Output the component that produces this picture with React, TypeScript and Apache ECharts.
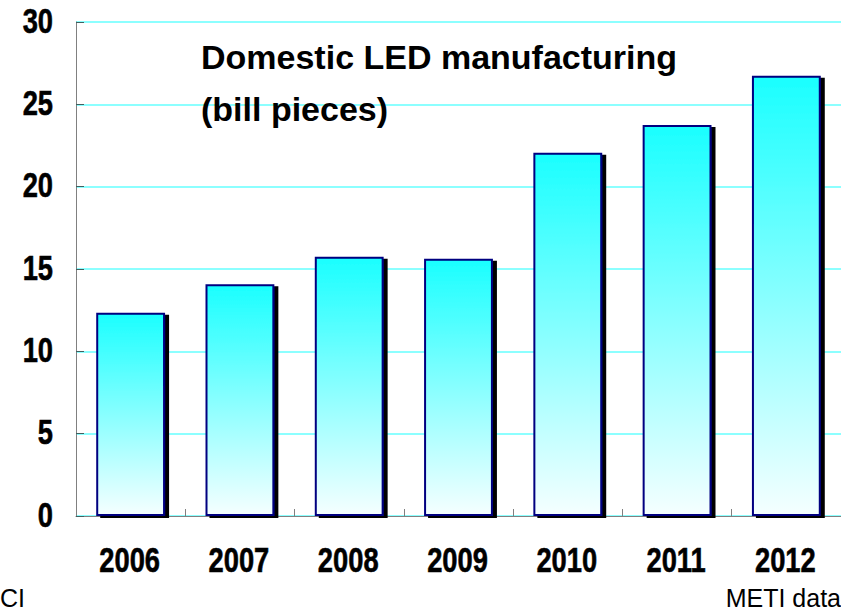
import React, { useEffect, useRef } from "react";
import * as echarts from "echarts";

const years = ["2006", "2007", "2008", "2009", "2010", "2011", "2012"];
const production = [12.35, 14.08, 15.75, 15.63, 22.06, 23.74, 26.74];
const yTicks = [0, 5, 10, 15, 20, 25, 30];
const titleLines = ["Domestic LED manufacturing", "(bill pieces)"];
const sourceLeft = "CI";
const sourceRight = "METI data";

const LABEL_FONT = "'Liberation Sans', Arial, sans-serif";

export default function App() {
  const ref = useRef<HTMLDivElement>(null);
  useEffect(() => {
    if (!ref.current) return;
    const chart = echarts.init(ref.current, null, { renderer: "svg" });
    chart.setOption({
      animation: false,
      backgroundColor: "#ffffff",
      grid: { left: 76, top: 22, bottom: 94, right: -5, containLabel: false },
      xAxis: {
        type: "category",
        data: years,
        axisLine: { show: true, lineStyle: { color: "#808080", width: 1 } },
        axisTick: { show: true, inside: true, length: 7, lineStyle: { color: "#808080" } },
        axisLabel: { show: false },
      },
      yAxis: {
        type: "value",
        min: 0,
        max: 30,
        interval: 5,
        axisLine: { show: true, lineStyle: { color: "#808080", width: 1 } },
        axisTick: { show: true, inside: true, length: 8, lineStyle: { color: "#406060" } },
        splitLine: { show: true, lineStyle: { color: "#66ffff", width: 1.5 } },
        axisLabel: { show: false },
      },
      series: [
        {
          type: "bar",
          data: production,
          barWidth: "63%",
          itemStyle: {
            color: new echarts.graphic.LinearGradient(0, 0, 0, 1, [
              { offset: 0, color: "#1affff" },
              { offset: 1, color: "#f5ffff" },
            ]),
            borderColor: "#000080",
            borderWidth: 2,
            shadowColor: "#000000",
            shadowOffsetX: 4,
            shadowOffsetY: 2,
            shadowBlur: 0,
          },
        },
      ],
    });

    const tickStyle = {
      fontSize: 35,
      fontWeight: "bold",
      fill: "#000",
      stroke: "#000",
      lineWidth: 0.6,
      fontFamily: LABEL_FONT,
    };

    // Tick labels in a condensed bold face, placed through the axes' own scales
    const yLabels = yTicks.map((v) => {
      const py = chart.convertToPixel({ yAxisIndex: 0 }, v) as number;
      return {
        type: "text",
        x: 53,
        y: py - 1,
        scaleX: 0.78,
        style: { x: 0, y: 0, text: String(v), align: "right", verticalAlign: "middle", ...tickStyle },
      };
    });
    const baseY = chart.convertToPixel({ yAxisIndex: 0 }, 0) as number;
    const xLabels = years.map((c) => {
      const px = chart.convertToPixel({ xAxisIndex: 0 }, c) as number;
      return {
        type: "text",
        x: px - 1,
        y: baseY + 44,
        scaleX: 0.78,
        style: { x: 0, y: 0, text: c, align: "center", verticalAlign: "middle", ...tickStyle },
      };
    });

    chart.setOption({
      graphic: [
        ...yLabels,
        ...xLabels,
        {
          type: "text",
          left: 201,
          top: 40,
          style: { text: titleLines[0], fontSize: 34, fontWeight: "bold", fill: "#000", fontFamily: LABEL_FONT },
        },
        {
          type: "text",
          left: 201,
          top: 92,
          style: { text: titleLines[1], fontSize: 34, fontWeight: "bold", fill: "#000", fontFamily: LABEL_FONT },
        },
        {
          type: "text",
          left: 0,
          top: 585,
          style: { text: sourceLeft, fontSize: 25, fill: "#000", fontFamily: LABEL_FONT },
        },
        {
          type: "text",
          right: 0,
          top: 585,
          style: { text: sourceRight, fontSize: 25, fill: "#000", fontFamily: LABEL_FONT },
        },
      ],
    });
    return () => chart.dispose();
  }, []);
  return (
    <div
      ref={ref}
      style={{ position: "fixed", left: 0, top: 0, width: 841, height: 610, background: "#fff" }}
    />
  );
}
